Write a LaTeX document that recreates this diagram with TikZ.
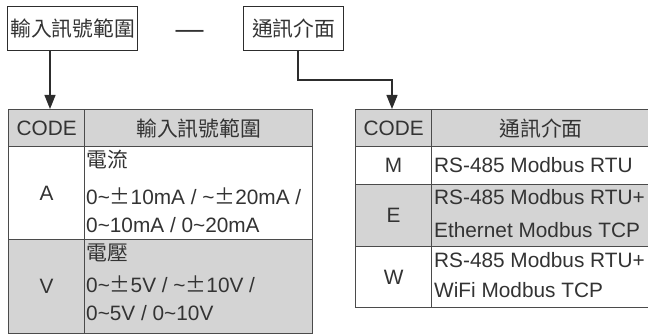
\documentclass[tikz,border=0pt]{standalone}
\usepackage{fontspec}
\setmainfont{Liberation Sans}
\newfontfamily\cjk{Noto Sans CJK TC}
\usetikzlibrary{arrows.meta}
\definecolor{txt}{RGB}{51,51,51}
\definecolor{linec}{RGB}{75,75,75}
\definecolor{boxc}{RGB}{45,45,45}
\definecolor{shade}{RGB}{212,212,212}
\newcommand\pmw{\makebox[1em][c]{\cjk ±}}
\newcommand\tl{\textasciitilde}
\begin{document}
\begin{tikzpicture}[x=1pt,y=-1pt,
  font=\fontsize{20.8}{24}\selectfont, text=txt,
  cell/.style={draw=linec, line width=1.3pt, anchor=north west, inner sep=0pt},
  lbl/.style={anchor=base west, inner sep=0pt},
  topbox/.style={draw=boxc, line width=1.3pt, inner sep=0pt, anchor=north west, minimum height=44pt},
  arr/.style={draw=boxc, line width=1.2pt, -{Triangle[width=11pt,length=14pt]}}]
\useasboundingbox (0,0) rectangle (648,336);
\clip (0,0) rectangle (648,336);
% top boxes
\node[topbox, minimum width=130pt] (box1) at (7,6) {\cjk 輸入訊號範圍};
\node[anchor=base, inner sep=0pt, font=\fontsize{28}{28}\selectfont] (dash) at (189.5,39) {—};
\node[topbox, minimum width=100pt] (box2) at (243,6) {\cjk 通訊介面};
% left table
\node[cell, fill=shade, minimum width=76pt, minimum height=37pt] (lh1) at (8,109) {CODE};
\node[cell, fill=shade, minimum width=228pt, minimum height=37pt] (lh2) at (84,109) {\cjk 輸入訊號範圍};
\node[cell, fill=white, minimum width=76pt, minimum height=93pt] (la1) at (8,146) {A};
\node[cell, fill=white, minimum width=228pt, minimum height=93pt] (la2) at (84,146) {};
\node[cell, fill=shade, minimum width=76pt, minimum height=94pt] (lv1) at (8,239) {V};
\node[cell, fill=shade, minimum width=228pt, minimum height=94pt] (lv2) at (84,239) {};
\node[lbl] (ta1) at (86,168) {\cjk 電流};
\node[lbl] (ta2) at (86,205) {0\tl\pmw10mA / \tl\pmw20mA /};
\node[lbl] (ta3) at (86,233) {0\tl10mA / 0\tl20mA};
\node[lbl] (tv1) at (86,261) {\cjk 電壓};
\node[lbl] (tv2) at (86,293) {0\tl\pmw5V / \tl\pmw10V /};
\node[lbl] (tv3) at (86,321) {0\tl5V / 0\tl10V};
% right table
\node[cell, fill=shade, minimum width=76pt, minimum height=37pt] (rh1) at (355,109) {CODE};
\node[cell, fill=shade, minimum width=219pt, minimum height=37pt] (rh2) at (431,109) {\cjk 通訊介面};
\node[cell, fill=white, minimum width=76pt, minimum height=38pt] (rm1) at (355,146) {M};
\node[cell, fill=white, minimum width=219pt, minimum height=38pt] (rm2) at (431,146) {};
\node[cell, fill=shade, minimum width=76pt, minimum height=62pt] (re1) at (355,184) {E};
\node[cell, fill=shade, minimum width=219pt, minimum height=62pt] (re2) at (431,184) {};
\node[cell, fill=white, minimum width=76pt, minimum height=61pt] (rw1) at (355,246) {W};
\node[cell, fill=white, minimum width=219pt, minimum height=61pt] (rw2) at (431,246) {};
\node[lbl] (tm1) at (434,173) {RS-485 Modbus RTU};
\node[lbl] (te1) at (434,205) {RS-485 Modbus RTU+};
\node[lbl] (te2) at (434,238) {Ethernet Modbus TCP};
\node[lbl] (tw1) at (434,268) {RS-485 Modbus RTU+};
\node[lbl] (tw2) at (434,298) {WiFi Modbus TCP};
% connectors
\coordinate (t1) at (50,109);
\coordinate (t2) at (392,109);
\coordinate (k) at (298,80);
\draw[arr] (box1.south -| t1) -- (t1);
\draw[arr] (box2.south -| k) -- (k) -| (t2);
\end{tikzpicture}
\end{document}
